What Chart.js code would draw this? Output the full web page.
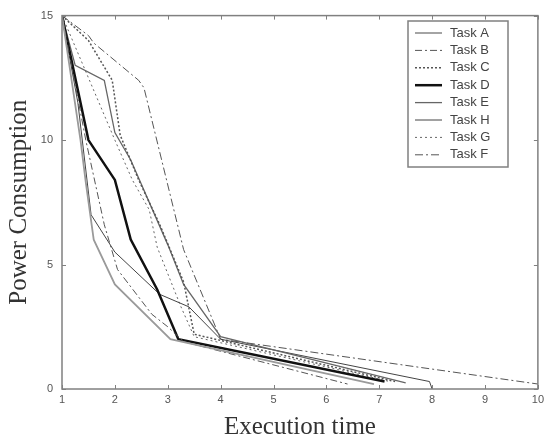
<!DOCTYPE html>
<html>
<head>
<meta charset="utf-8">
<script src="https://cdn.jsdelivr.net/npm/chart.js@4/dist/chart.umd.min.js"></script>
<style>
  html, body { margin: 0; padding: 0; background: #fff; }
  #wrap { width: 548px; height: 442px; }
</style>
</head>
<body>
<div id="wrap"><canvas id="grafico"></canvas></div>
<script>
// tick values
var xTicks = [1, 2, 3, 4, 5, 6, 7, 8, 9, 10]
var yTicks = [0, 5, 10, 15]

// task curves (x = execution time, y = power consumption)
var taskAx = [1, 1.35, 1.45, 1.6, 2, 3.05, 6.9]
var taskAy = [15, 10, 8.3, 6, 4.2, 2, 0.2]
var taskBx = [1, 1.45, 1.8, 2.05, 2.7, 3, 3.3, 6.4]
var taskBy = [15, 10, 6.6, 4.8, 3, 2.5, 1.9, 0.2]
var taskCx = [1, 1.5, 1.95, 2.1, 2.45, 2.85, 3.3, 3.5, 7.3]
var taskCy = [15, 14, 12.4, 10.2, 8.4, 6.6, 4.3, 2.2, 0.3]
var taskDx = [1, 1.5, 2, 2.3, 2.8, 3.2, 7.1]
var taskDy = [15, 10, 8.4, 6, 4, 2, 0.3]
var taskEx = [1, 1.25, 1.8, 2, 2.3, 3, 3.3, 4, 7.5]
var taskEy = [15, 13, 12.4, 10.3, 9.2, 5.8, 4.2, 2.1, 0.25]
var taskHx = [1, 1.3, 1.55, 2, 2.85, 3.4, 4, 7.95, 8]
var taskHy = [15, 11.5, 7, 5.5, 3.8, 3.3, 2, 0.3, 0]
var taskGx = [1, 1.4, 1.7, 2, 2.33, 2.65, 2.8, 3.25, 3.5, 7.2]
var taskGy = [15, 13, 11.5, 10, 8.4, 7.2, 5.7, 3.3, 2.1, 0.3]
var taskFx = [1, 1.5, 1.6, 2.45, 2.55, 3.3, 4, 10]
var taskFy = [15, 14.2, 13.9, 12.4, 12.1, 5.6, 2, 0.2]

function pontos(xs, ys) {
  return xs.map((x, i) => ({ x: x, y: ys[i] }))
}

function serie(label, xs, ys, color, width, dash) {
  return {
    label: label,
    data: pontos(xs, ys),
    borderColor: color,
    borderWidth: width,
    borderDash: dash,
    showLine: true,
    pointRadius: 0,
    tension: 0,
    fill: false
  }
}

// frame, inward ticks and the boxed legend
const molduraPlugin = {
  id: 'moldura',
  afterDraw(chart) {
    const ctx = chart.ctx
    const a = chart.chartArea
    const sx = chart.scales.x
    const sy = chart.scales.y
    ctx.save()
    ctx.strokeStyle = '#808080'
    ctx.lineWidth = 1.5
    ctx.strokeRect(a.left, a.top, a.right - a.left, a.bottom - a.top)
    ctx.lineWidth = 1
    ctx.beginPath()
    xTicks.forEach(v => {
      const p = Math.round(sx.getPixelForValue(v)) + 0.5
      ctx.moveTo(p, a.bottom); ctx.lineTo(p, a.bottom - 4)
      ctx.moveTo(p, a.top); ctx.lineTo(p, a.top + 4)
    })
    yTicks.forEach(v => {
      const p = Math.round(sy.getPixelForValue(v)) + 0.5
      ctx.moveTo(a.left, p); ctx.lineTo(a.left + 4, p)
      ctx.moveTo(a.right, p); ctx.lineTo(a.right - 4, p)
    })
    ctx.stroke()

    // legend box
    const bx = 408, by = 21, bw = 100, bh = 146
    ctx.fillStyle = '#fff'
    ctx.fillRect(bx, by, bw, bh)
    ctx.strokeStyle = '#808080'
    ctx.lineWidth = 1.5
    ctx.strokeRect(bx, by, bw, bh)
    ctx.font = '13px "Liberation Sans", Arial, sans-serif'
    ctx.textBaseline = 'middle'
    chart.data.datasets.forEach((ds, i) => {
      const yy = 33 + i * 17.4
      ctx.strokeStyle = ds.borderColor
      ctx.lineWidth = ds.borderWidth
      ctx.setLineDash(ds.borderDash || [])
      ctx.beginPath()
      ctx.moveTo(415, yy); ctx.lineTo(442, yy)
      ctx.stroke()
      ctx.setLineDash([])
      ctx.fillStyle = '#444'
      ctx.fillText(ds.label, 450, yy)
    })
    ctx.restore()
  }
}

var tickFont = { family: '"Liberation Sans", Arial, sans-serif', size: 11 }
var titleFont = { family: '"Liberation Serif", "Times New Roman", serif', size: 25 }

new Chart(document.getElementById('grafico'), {
  type: 'scatter',
  data: {
    datasets: [
      serie('Task A', taskAx, taskAy, '#9a9a9a', 1.8, []),
      serie('Task B', taskBx, taskBy, '#555', 1, [7, 3, 2, 3]),
      serie('Task C', taskCx, taskCy, '#555', 1.5, [2, 2]),
      serie('Task D', taskDx, taskDy, '#111', 2.5, []),
      serie('Task E', taskEx, taskEy, '#666', 1.3, []),
      serie('Task H', taskHx, taskHy, '#444', 1, []),
      serie('Task G', taskGx, taskGy, '#666', 1, [2, 3]),
      serie('Task F', taskFx, taskFy, '#555', 1, [8, 3, 2, 3])
    ]
  },
  options: {
    responsive: true,
    maintainAspectRatio: false,
    animation: false,
    layout: { padding: { top: 14, right: 7, left: 0, bottom: 0 } },
    plugins: {
      legend: { display: false },
      tooltip: { enabled: false }
    },
    scales: {
      x: {
        type: 'linear',
        min: 1,
        max: 10,
        afterFit: s => { s.height = 53 },
        afterBuildTicks: s => { s.ticks = xTicks.map(v => ({ value: v })) },
        grid: { display: false, drawTicks: false },
        border: { display: false },
        ticks: { color: '#555', font: tickFont, padding: 4, maxRotation: 0 },
        title: { display: true, text: 'Execution time', color: '#333', font: titleFont, padding: { top: 0, bottom: 0 } }
      },
      y: {
        type: 'linear',
        min: 0,
        max: 15,
        afterFit: s => { s.width = 62 },
        afterBuildTicks: s => { s.ticks = yTicks.map(v => ({ value: v })) },
        grid: { display: false, drawTicks: false },
        border: { display: false },
        ticks: { color: '#555', font: tickFont, padding: 9 },
        title: { display: true, text: 'Power Consumption', color: '#333', font: titleFont, padding: { top: 4, bottom: 0 } }
      }
    }
  },
  plugins: [molduraPlugin]
});
</script>
</body>
</html>
